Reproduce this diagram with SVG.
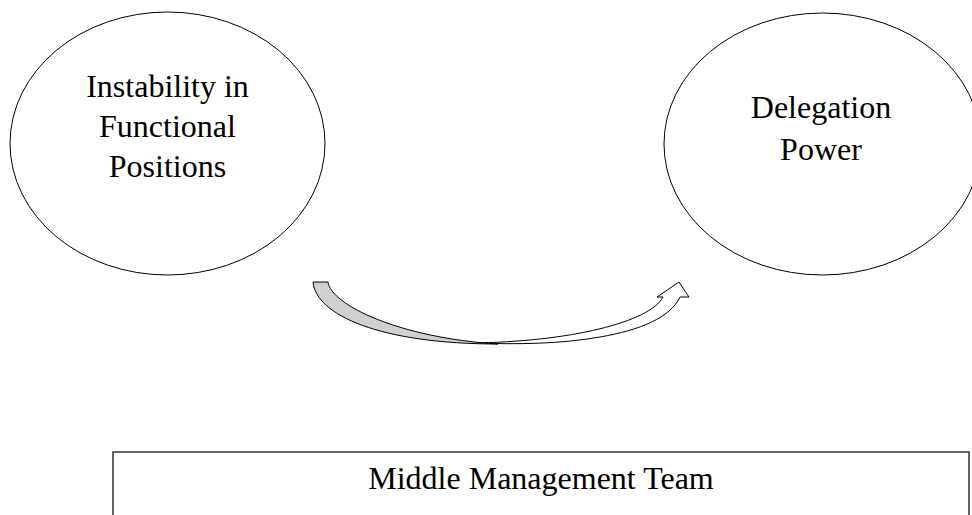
<svg xmlns="http://www.w3.org/2000/svg" width="972" height="515" viewBox="0 0 972 515">
<style>
.bg{fill:#ffffff}
.node{fill:#ffffff;stroke:#000000;stroke-width:1}
.box{fill:#ffffff;stroke:#333333;stroke-width:1.5}
.lbl{font-family:"Liberation Serif","Times New Roman",serif;font-size:32px;fill:#000000;text-anchor:middle}
.arrow-top{fill:#ffffff;stroke:#000000;stroke-width:1;stroke-linejoin:miter}
.arrow-under{fill:#d0d0d0;stroke:#000000;stroke-width:1}
</style>
<rect class="bg" x="0" y="0" width="972" height="515"/>
<g id="node-instability">
<ellipse class="node" cx="167.5" cy="143.5" rx="157.5" ry="131.5"/>
<text class="lbl" x="167.5" y="97">Instability in</text>
<text class="lbl" x="167.5" y="137">Functional</text>
<text class="lbl" x="167.5" y="177">Positions</text>
</g>
<g id="node-delegation">
<ellipse class="node" cx="822.5" cy="144" rx="158.5" ry="131"/>
<text class="lbl" x="821" y="118">Delegation</text>
<text class="lbl" x="821" y="160">Power</text>
</g>
<g id="node-middle-management">
<rect class="box" x="113" y="452" width="856" height="80"/>
<text class="lbl" x="541" y="489">Middle Management Team</text>
</g>
<g id="connectors">
<path class="arrow-top" d="M470,343 C520,344.5 560,344 600,337 C640,330 670,318 680,297 L689,297 L679,282 L657,297 L663,297 C650,322 570,342 470,343 Z"/>
<path class="arrow-under" d="M313,282 L328,282 C331,305 400,338 498,344 C380,344 316,315 313,282 Z"/>
</g>
</svg>
